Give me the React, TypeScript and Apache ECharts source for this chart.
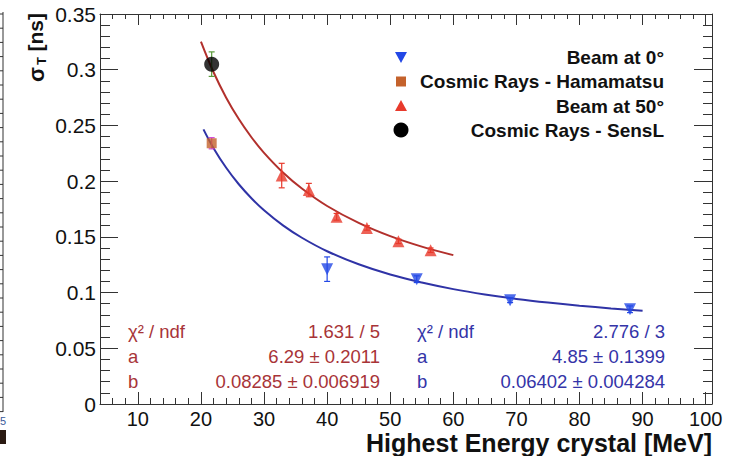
import React, { useEffect, useRef } from "react";
import * as echarts from "echarts";

// ---- data ----
const beam0X = [40.0, 54.2, 69.0, 88.0];
const beam0Y = [0.121, 0.112, 0.093, 0.085];
const beam0Err = [0.011, 0.003, 0.002, 0.003];

const beam50X = [32.8, 37.1, 41.5, 46.3, 51.3, 56.4];
const beam50Y = [0.205, 0.192, 0.168, 0.158, 0.146, 0.138];
const beam50Err = [0.011, 0.006, 0.003, 0.002, 0.002, 0.002];

const hamaX = [21.7];
const hamaY = [0.234];
const hamaErr = [0.005];

const sensX = [21.7];
const sensY = [0.305];
const sensErr = [0.011];

// fit curves
const fitRedX = [20, 22, 24, 26, 28, 30, 33, 36, 40, 45, 50, 55, 60];
const fitRedY = [0.3252, 0.2977, 0.2749, 0.2557, 0.2394, 0.2254, 0.2078, 0.1934, 0.1777, 0.1625, 0.1506, 0.1412, 0.1336];
const fitBlueX = [20.4, 22, 24, 26, 28, 30, 33, 36, 40, 45, 50, 55, 60, 65, 70, 75, 80, 85, 90];
const fitBlueY = [0.2465, 0.2296, 0.212, 0.1972, 0.1847, 0.1739, 0.1603, 0.1492, 0.1371, 0.1254, 0.1162, 0.109, 0.1031, 0.0983, 0.0943, 0.091, 0.0882, 0.0858, 0.0837];

const xMajorTicks = [10, 20, 30, 40, 50, 60, 70, 80, 90, 100];
const xMinorTicks = [6, 8, 12, 14, 16, 18, 22, 24, 26, 28, 32, 34, 36, 38, 42, 44, 46, 48, 52, 54, 56, 58, 62, 64, 66, 68, 72, 74, 76, 78, 82, 84, 86, 88, 92, 94, 96, 98];

const legendNames = ["Beam at 0°", "Cosmic Rays - Hamamatsu", "Beam at 50°", "Cosmic Rays - SensL"];
const redStatLabels = ["χ² / ndf", "a", "b"];
const redStatValues = ["1.631 / 5", "6.29 ± 0.2011", "0.08285 ± 0.006919"];
const blueStatLabels = ["χ² / ndf", "a", "b"];
const blueStatValues = ["2.776 / 3", "4.85 ± 0.1399", "0.06402 ± 0.004284"];

const FONT = '"Liberation Sans", Arial, Helvetica, sans-serif';
const BLUE_MK = "#2348e6";
const RED_MK = "#e83a2c";
const ORANGE_MK = "#c4622c";
const RED_FIT = "#b2302c";
const BLUE_FIT = "#2f33a6";
const RED_TXT = "#a83438";
const BLUE_TXT = "#3434a8";
const AX = "#333";

function errorBars(name: string, xs: number[], ys: number[], errs: number[], color: string) {
  return {
    type: "custom",
    name,
    silent: true,
    z: 2,
    data: xs.map((x, i) => [x, ys[i] - errs[i], ys[i] + errs[i]]),
    renderItem: (_p: any, api: any) => {
      const lo = api.coord([api.value(0), api.value(1)]);
      const hi = api.coord([api.value(0), api.value(2)]);
      const w = 3;
      const st = { stroke: color, lineWidth: 1.2 };
      return {
        type: "group",
        children: [
          { type: "line", shape: { x1: lo[0], y1: lo[1], x2: hi[0], y2: hi[1] }, style: st },
          { type: "line", shape: { x1: lo[0] - w, y1: lo[1], x2: lo[0] + w, y2: lo[1] }, style: st },
          { type: "line", shape: { x1: hi[0] - w, y1: hi[1], x2: hi[0] + w, y2: hi[1] }, style: st },
        ],
      };
    },
  };
}

function pts(xs: number[], ys: number[]) {
  return xs.map((x, i) => [x, ys[i]]);
}

export default function App() {
  const ref = useRef<HTMLDivElement>(null);
  useEffect(() => {
    if (!ref.current) return;
    const chart = echarts.init(ref.current, undefined, { renderer: "svg" });

    const lineSt = { color: AX, width: 1 };
    const xBase = {
      type: "value",
      min: 4,
      max: 101,
      splitLine: { show: false },
    };
    const yBase = {
      type: "value",
      min: 0,
      max: 0.35,
      interval: 0.05,
      splitLine: { show: false },
      minorSplitLine: { show: false },
    };

    const graphics: any[] = [];
    // y axis title (rotated)
    graphics.push({
      type: "text", x: 35, y: 13, rotation: Math.PI / 2,
      style: { text: "[ns]", align: "right", verticalAlign: "middle", font: `bold 21px ${FONT}`, fill: "#111" },
    });
    graphics.push({
      type: "text", x: 41, y: 57, rotation: Math.PI / 2,
      style: { text: "T", align: "right", verticalAlign: "middle", font: `bold 13px ${FONT}`, fill: "#111" },
    });
    graphics.push({
      type: "text", x: 36, y: 67, rotation: Math.PI / 2,
      style: { text: "σ", align: "right", verticalAlign: "middle", font: `bold 22px ${FONT}`, fill: "#111" },
    });
    // x axis title
    graphics.push({
      type: "text", x: 712, y: 443,
      style: { text: "Highest Energy crystal [MeV]", align: "right", verticalAlign: "middle", font: `bold 25px ${FONT}`, fill: "#111" },
    });
    // legend
    const legY = [57, 81.5, 106, 130];
    graphics.push({ type: "polygon", shape: { points: [[395, legY[0] - 5], [407, legY[0] - 5], [401, legY[0] + 6]] }, style: { fill: BLUE_MK } });
    graphics.push({ type: "rect", shape: { x: 396, y: legY[1] - 5, width: 10, height: 10 }, style: { fill: ORANGE_MK } });
    graphics.push({ type: "polygon", shape: { points: [[395, legY[2] + 5], [407, legY[2] + 5], [401, legY[2] - 6]] }, style: { fill: RED_MK } });
    graphics.push({ type: "circle", shape: { cx: 401, cy: legY[3], r: 7.5 }, style: { fill: "#000" } });
    legendNames.forEach((n, i) => {
      graphics.push({
        type: "text", x: 664, y: legY[i],
        style: { text: n, align: "right", verticalAlign: "middle", font: `bold 19px ${FONT}`, fill: "#111" },
      });
    });
    // fit statistics
    const statY = [331, 356, 381];
    redStatLabels.forEach((t, i) => {
      graphics.push({ type: "text", x: 128, y: statY[i], style: { text: t, align: "left", verticalAlign: "middle", font: `18.5px ${FONT}`, fill: RED_TXT } });
      graphics.push({ type: "text", x: 380, y: statY[i], style: { text: redStatValues[i], align: "right", verticalAlign: "middle", font: `18.5px ${FONT}`, fill: RED_TXT } });
    });
    blueStatLabels.forEach((t, i) => {
      graphics.push({ type: "text", x: 417, y: statY[i], style: { text: t, align: "left", verticalAlign: "middle", font: `18.5px ${FONT}`, fill: BLUE_TXT } });
      graphics.push({ type: "text", x: 665, y: statY[i], style: { text: blueStatValues[i], align: "right", verticalAlign: "middle", font: `18.5px ${FONT}`, fill: BLUE_TXT } });
    });
    // cropped neighbouring frame at the far left
    graphics.push({ type: "line", shape: { x1: 3, y1: 12, x2: 3, y2: 412 }, style: { stroke: "#333", lineWidth: 1 } });
    for (let k = 0; k < 29; k++) {
      const yy = 14 + k * 14.2;
      graphics.push({ type: "line", shape: { x1: 0, y1: yy, x2: 3, y2: yy }, style: { stroke: "#333", lineWidth: 1 } });
    }
    graphics.push({ type: "text", x: 0, y: 421, style: { text: "5", align: "left", verticalAlign: "middle", font: `11px ${FONT}`, fill: "#3a5a9a" } });
    graphics.push({ type: "rect", shape: { x: 0, y: 430, width: 6, height: 14 }, style: { fill: "#2a1a12" } });

    chart.setOption({
      animation: false,
      backgroundColor: "#fff",
      textStyle: { fontFamily: FONT },
      grid: { left: 100, right: 31, top: 14, bottom: 52, containLabel: false, outerBoundsMode: "none" },
      xAxis: [
        {
          ...xBase, position: "bottom",
          axisLine: { show: true, onZero: false, lineStyle: lineSt },
          axisTick: { show: true, inside: true, length: 12, customValues: xMajorTicks, lineStyle: lineSt },
          axisLabel: { show: true, customValues: xMajorTicks, fontSize: 20, color: "#111", margin: 5, fontFamily: FONT },
        },
        {
          ...xBase, position: "bottom",
          axisLine: { show: false, onZero: false },
          axisTick: { show: true, inside: true, length: 6, customValues: xMinorTicks, lineStyle: lineSt },
          axisLabel: { show: false },
        },
        {
          ...xBase, position: "top",
          axisLine: { show: true, onZero: false, lineStyle: lineSt },
          axisTick: { show: true, inside: true, length: 11, customValues: xMajorTicks, lineStyle: lineSt },
          axisLabel: { show: false },
        },
        {
          ...xBase, position: "top",
          axisLine: { show: false, onZero: false },
          axisTick: { show: true, inside: true, length: 5, customValues: xMinorTicks, lineStyle: lineSt },
          axisLabel: { show: false },
        },
      ],
      yAxis: [
        {
          ...yBase, position: "left",
          axisLine: { show: true, onZero: false, lineStyle: lineSt },
          axisTick: { show: true, inside: true, length: 18, lineStyle: lineSt },
          minorTick: { show: true, splitNumber: 5, length: 10, lineStyle: lineSt },
          axisLabel: { show: true, fontSize: 21, color: "#111", margin: 4, fontFamily: FONT },
        },
        {
          ...yBase, position: "right",
          axisLine: { show: true, onZero: false, lineStyle: lineSt },
          axisTick: { show: true, inside: true, length: 18, lineStyle: lineSt },
          minorTick: { show: true, splitNumber: 5, length: 9, lineStyle: lineSt },
          axisLabel: { show: false },
        },
      ],
      series: [
        {
          type: "line", name: "fit 50", data: pts(fitRedX, fitRedY), smooth: 0.4, showSymbol: false, symbol: "none",
          lineStyle: { color: RED_FIT, width: 2 }, z: 1, silent: true,
        },
        {
          type: "line", name: "fit 0", data: pts(fitBlueX, fitBlueY), smooth: 0.4, showSymbol: false, symbol: "none",
          lineStyle: { color: BLUE_FIT, width: 2 }, z: 1, silent: true,
        },
        errorBars("err0", beam0X, beam0Y, beam0Err, BLUE_MK),
        errorBars("err50", beam50X, beam50Y, beam50Err, RED_MK),
        errorBars("errH", hamaX, hamaY, hamaErr, "#d040d8"),
        errorBars("errS", sensX, sensY, sensErr, "#5a9a3a"),
        {
          type: "scatter", name: "Beam at 0°", data: pts(beam0X, beam0Y), symbol: "triangle", symbolRotate: 180,
          symbolSize: 12, itemStyle: { color: BLUE_MK }, z: 3,
        },
        {
          type: "scatter", name: "Cosmic Rays - Hamamatsu", data: pts(hamaX, hamaY), symbol: "rect",
          symbolSize: 10, itemStyle: { color: ORANGE_MK }, z: 3,
        },
        {
          type: "scatter", name: "Beam at 50°", data: pts(beam50X, beam50Y), symbol: "triangle",
          symbolSize: 12, itemStyle: { color: RED_MK }, z: 3,
        },
        {
          type: "scatter", name: "Cosmic Rays - SensL", data: pts(sensX, sensY), symbol: "circle",
          symbolSize: 15, itemStyle: { color: "#000" }, z: 3,
        },
      ],
      graphic: graphics,
    } as any);

    return () => chart.dispose();
  }, []);

  return <div ref={ref} style={{ position: "fixed", left: 0, top: 0, width: 743, height: 456 }} />;
}
